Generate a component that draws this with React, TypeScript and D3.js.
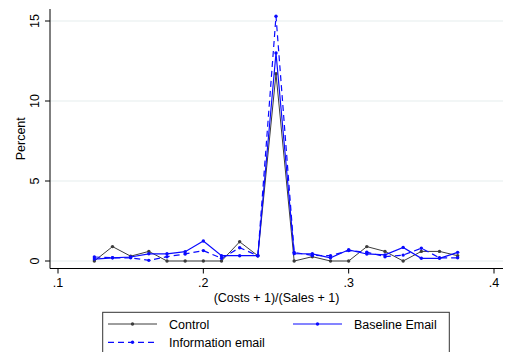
import React from "react";
import * as d3 from "d3";

const ratio = [0.125, 0.1375, 0.15, 0.1625, 0.175, 0.1875, 0.2, 0.2125, 0.225, 0.2375, 0.25, 0.2625, 0.275, 0.2875, 0.3, 0.3125, 0.325, 0.3375, 0.35, 0.3625, 0.375];
const control = [0, 0.9, 0.3, 0.6, 0, 0, 0, 0, 1.2, 0.33, 11.7, 0, 0.27, 0, 0, 0.9, 0.6, 0, 0.6, 0.6, 0.33];
const baseline = [0.12, 0.2, 0.25, 0.45, 0.45, 0.58, 1.25, 0.33, 0.33, 0.33, 13.0, 0.46, 0.45, 0.2, 0.7, 0.44, 0.38, 0.85, 0.17, 0.17, 0.54];
const information = [0.25, 0.2, 0.2, 0.04, 0.27, 0.44, 0.65, 0.17, 0.83, 0.33, 15.3, 0.54, 0.35, 0.33, 0.65, 0.55, 0.27, 0.37, 0.8, 0.2, 0.2];

const xTicks = [0.1, 0.2, 0.3, 0.4];
const xTickLabels = [".1", ".2", ".3", ".4"];
const yTicks = [0, 5, 10, 15];

const seriesNames = ["Control", "Baseline Email", "Information email"];
const seriesData = [control, baseline, information];
const seriesColors = ["#3c3c3c", "#0a0aff", "#0a0aff"];
const seriesDash = [null, null, "6,4"];

const FONT = "'Liberation Sans', Arial, Helvetica, sans-serif";

export default function App() {
  const x = d3.scaleLinear().domain([0.1, 0.4]).range([58, 494]);
  const y = d3.scaleLinear().domain([0, 15]).range([261, 21]);
  const plotLeft = 50;
  const plotRight = 503;
  const plotTop = 9;
  const plotBottom = 268.5;

  const line = d3
    .line<[number, number]>()
    .x((d) => x(d[0]))
    .y((d) => y(d[1]));

  const legendItems = [
    { x0: 108, y0: 324, idx: 0 },
    { x0: 293, y0: 324, idx: 1 },
    { x0: 108, y0: 342.3, idx: 2 },
  ];

  return (
    <svg
      width={507}
      height={352}
      style={{ position: "absolute", left: 0, top: 0, display: "block", background: "#fff" }}
      fontFamily={FONT}
    >
      <rect x={0} y={0} width={507} height={352} fill="#fff" />
      {/* gridlines */}
      {yTicks.map((t) => (
        <line key={"g" + t} x1={plotLeft} x2={plotRight} y1={y(t)} y2={y(t)} stroke="#e6eeee" strokeWidth={1.2} />
      ))}
      {/* series */}
      {seriesData.map((vals, si) => {
        const pts: [number, number][] = ratio.map((r, i) => [r, vals[i]]);
        return (
          <g key={"s" + si}>
            <path
              d={line(pts) || ""}
              fill="none"
              stroke={seriesColors[si]}
              strokeWidth={si === 0 ? 1 : 1.2}
              strokeDasharray={seriesDash[si] || undefined}
            />
            {pts.map((p, i) => (
              <circle key={i} cx={x(p[0])} cy={y(p[1])} r={1.7} fill={seriesColors[si]} />
            ))}
          </g>
        );
      })}
      {/* axes */}
      <line x1={plotLeft} x2={plotLeft} y1={plotTop} y2={plotBottom} stroke="#000" strokeWidth={1} />
      <line x1={plotLeft} x2={plotRight} y1={plotBottom} y2={plotBottom} stroke="#000" strokeWidth={1} />
      {yTicks.map((t) => (
        <g key={"yt" + t}>
          <line x1={plotLeft - 5} x2={plotLeft} y1={y(t)} y2={y(t)} stroke="#000" />
          <text
            transform={`translate(38.5,${y(t)}) rotate(-90)`}
            textAnchor="middle"
            fontSize={12.5}
            fill="#000"
          >
            {String(t)}
          </text>
        </g>
      ))}
      {xTicks.map((t, i) => (
        <g key={"xt" + t}>
          <line x1={x(t)} x2={x(t)} y1={plotBottom} y2={plotBottom + 5} stroke="#000" />
          <text x={x(t)} y={287} textAnchor="middle" fontSize={12.5} fill="#000">
            {xTickLabels[i]}
          </text>
        </g>
      ))}
      <text transform={`translate(24.5,${(plotTop + plotBottom) / 2}) rotate(-90)`} textAnchor="middle" fontSize={12.5} fill="#000">
        Percent
      </text>
      <text x={(plotLeft + plotRight) / 2} y={302} textAnchor="middle" fontSize={12.5} fill="#000">
        (Costs + 1)/(Sales + 1)
      </text>
      {/* legend */}
      <rect x={102.7} y={312.3} width={346.6} height={50} fill="#fff" stroke="#333" strokeWidth={1} />
      {legendItems.map((it) => (
        <g key={"l" + it.idx}>
          <line
            x1={it.x0}
            x2={it.x0 + 49}
            y1={it.y0}
            y2={it.y0}
            stroke={seriesColors[it.idx]}
            strokeWidth={it.idx === 0 ? 1 : 1.2}
            strokeDasharray={seriesDash[it.idx] || undefined}
          />
          <circle cx={it.x0 + 24.5} cy={it.y0} r={1.7} fill={seriesColors[it.idx]} />
          <text x={it.x0 + 61} y={it.y0 + 4.5} fontSize={12.5} fill="#000">
            {seriesNames[it.idx]}
          </text>
        </g>
      ))}
    </svg>
  );
}
